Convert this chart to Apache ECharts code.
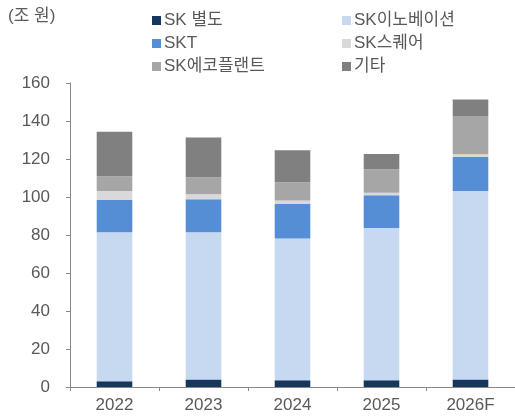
<!DOCTYPE html>
<html>
<head>
<meta charset="utf-8">
<script src="https://cdn.jsdelivr.net/npm/echarts@6/dist/echarts.min.js"></script>
<style>
  html, body { margin: 0; padding: 0; background: #fff; }
  #chart { width: 515px; height: 418px; }
</style>
</head>
<body>
<div id="chart"></div>
<script>
// 연도
const years = ['2022', '2023', '2024', '2025', '2026F'];
// 부문별 (조 원)
const skAlone = [3, 4, 3.5, 3.5, 4];
const skInnovation = [78.4, 77.4, 74.7, 80.2, 99.2];
const skt = [17, 17.4, 18.1, 17.2, 17.8];
const skSquare = [4.8, 2.6, 1.8, 1.4, 1.5];
const skEcoplant = [7.7, 9, 9.6, 12.3, 20.1];
const others = [23.5, 20.9, 16.9, 8, 8.7];

const yTicks = [0, 20, 40, 60, 80, 100, 120, 140, 160];

const FONT = '"Liberation Sans", "Noto Sans CJK KR", sans-serif';
const TXT = '#595959';

const chart = echarts.init(document.getElementById('chart'));

function bar(name, data, color) {
    return {
        name: name,
        type: 'bar',
        stack: 'total',
        barWidth: '40%',
        data: data,
        itemStyle: { color: color },
        emphasis: { disabled: true }
    };
}

const legendBase = {
    orient: 'vertical',
    itemWidth: 9,
    itemHeight: 9,
    itemGap: 6,
    icon: 'rect',
    textStyle: { fontFamily: FONT, fontSize: 17, color: TXT, padding: [0, 0, 0, -2] },
    selectedMode: false
};

chart.setOption({
    animation: false,
    textStyle: { fontFamily: FONT },
    graphic: [{
        type: 'text',
        left: 8,
        top: 8,
        style: { text: '(조 원)', fontFamily: FONT, fontSize: 17, fill: TXT }
    }],
    legend: [
        Object.assign({}, legendBase, { left: 147, top: 7, data: ['SK 별도', 'SKT', 'SK에코플랜트'] }),
        Object.assign({}, legendBase, { left: 337, top: 7, data: ['SK이노베이션', 'SK스퀘어', '기타'] })
    ],
    grid: { left: 70, right: 0, top: 83, bottom: 31 },
    xAxis: {
        type: 'category',
        data: years,
        axisLine: { lineStyle: { color: '#898989', width: 1 } },
        axisTick: { show: true, length: 4, lineStyle: { color: '#898989' } },
        axisLabel: { fontSize: 17, color: TXT, margin: 10, fontFamily: FONT }
    },
    yAxis: {
        type: 'value',
        min: yTicks[0],
        max: yTicks[yTicks.length - 1],
        interval: 20,
        axisLine: { show: true, lineStyle: { color: '#898989', width: 1 } },
        axisTick: { show: true, length: 4, lineStyle: { color: '#898989' } },
        axisLabel: { fontSize: 17, color: TXT, margin: 20, fontFamily: FONT },
        splitLine: { show: false }
    },
    series: [
        bar('SK 별도', skAlone, '#17365D'),
        bar('SK이노베이션', skInnovation, '#C6D9F1'),
        bar('SKT', skt, '#558ED5'),
        bar('SK스퀘어', skSquare, '#D9D9D9'),
        bar('SK에코플랜트', skEcoplant, '#A6A6A6'),
        bar('기타', others, '#808080')
    ]
});
</script>
</body>
</html>
